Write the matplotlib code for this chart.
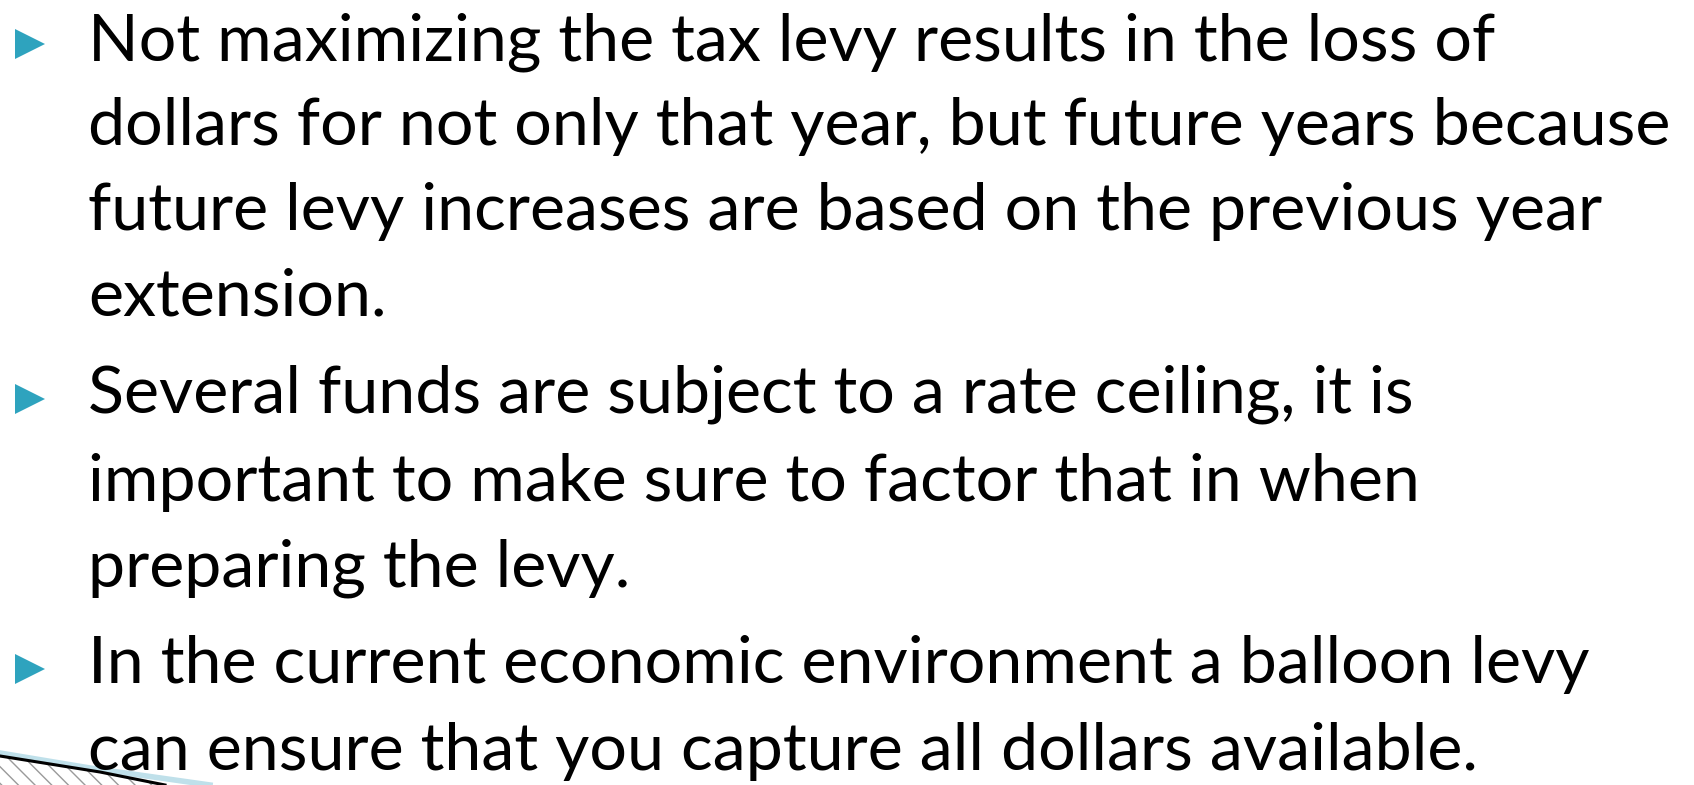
import matplotlib
matplotlib.use("Agg")
import matplotlib.pyplot as plt
from matplotlib.patches import Polygon

# slide content
paragraphs = [
    ["Not maximizing the tax levy results in the loss of",
     "dollars for not only that year, but future years because",
     "future levy increases are based on the previous year",
     "extension."],
    ["Several funds are subject to a rate ceiling, it is",
     "important to make sure to factor that in when",
     "preparing the levy."],
    ["In the current economic environment a balloon levy",
     "can ensure that you capture all dollars available."],
]
baselines = [[60, 145, 230, 315], [413, 501, 587], [683, 770]]
bullet_y = [44, 399, 669]

W, H = 1694, 785
fig = plt.figure(figsize=(W / 100, H / 100), dpi=100)
ax = fig.add_axes([0, 0, 1, 1])
ax.set_xlim(0, W)
ax.set_ylim(H, 0)
ax.axis("off")

font = "Lato"
text_x = 88
target_width = 1584

# size the font so the longest line spans like the original
probe = ax.text(0, 0, paragraphs[0][1], fontsize=40, family=font)
fig.canvas.draw()
w = probe.get_window_extent().width
probe.remove()
size = 40 * target_width / w

for lines, ys, by in zip(paragraphs, baselines, bullet_y):
    ax.plot(30, by, marker=">", markersize=22, color="#2EA3BE",
            markeredgewidth=0, linestyle="none")
    for line, y in zip(lines, ys):
        ax.text(text_x, y, line, fontsize=size, family=font,
                va="baseline", ha="left", color="black")

# page-curl decoration in the lower-left corner
ax.add_patch(Polygon([(0, 756), (100, 772), (160, 785), (0, 785)],
                     closed=True, facecolor="white", edgecolor="#9a9a9a",
                     hatch="\\\\", linewidth=0))
ax.plot([0, 90, 210], [753, 768, 785], color="#bfe0ea", linewidth=4)
ax.plot([0, 100, 165], [756, 772, 785], color="black", linewidth=2.2)

fig.savefig("out.png", dpi=100)
